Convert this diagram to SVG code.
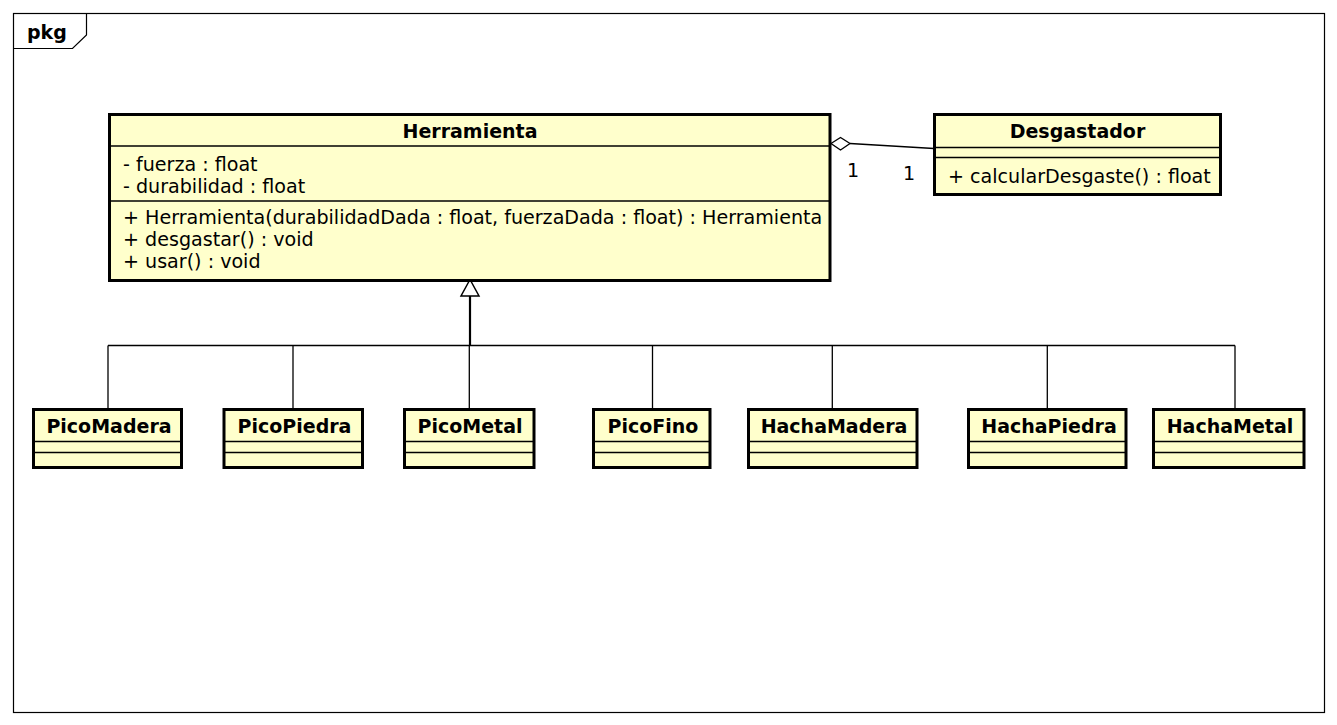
<svg xmlns="http://www.w3.org/2000/svg" width="1337" height="725" viewBox="0 0 1337 725">
<style>
  text { font-family: "DejaVu Sans", "Liberation Sans", sans-serif; font-size: 19.1px; fill: #000; }
  .b { font-weight: bold; font-size: 19px; }
  .c { text-anchor: middle; }
  .box { fill: #FFFFCC; stroke: #000; stroke-width: 3; }
  .sep { stroke: #000; stroke-width: 1.5; fill: none; }
  .ln { stroke: #000; stroke-width: 1.3; fill: none; }
</style>
<rect x="0" y="0" width="1337" height="725" fill="#fff"/>
<g id="pkg">
  <rect x="13.5" y="13.5" width="1311" height="699" fill="none" stroke="#000" stroke-width="1.2"/>
  <path d="M13.5,48.5 H72.5 L86.5,35 V13.5" fill="none" stroke="#000" stroke-width="1.2"/>
  <text class="b" x="27" y="39">pkg</text>
</g>
<g id="connectors">
  <polygon points="831,143.5 840.5,137.5 850,143.5 840.5,150" fill="#fff" stroke="#000" stroke-width="1.3"/>
  <line class="ln" x1="850" y1="143.5" x2="934" y2="148.5"/>
  <text x="853" y="177" class="c">1</text>
  <text x="909" y="180" class="c">1</text>
  <polygon points="470,279.5 461,296 479,296" fill="#fff" stroke="#000" stroke-width="1.5"/>
  <line x1="470" y1="296" x2="470" y2="345.5" stroke="#000" stroke-width="2.2"/>
  <line class="ln" x1="108" y1="345.5" x2="1235" y2="345.5"/>
  <line class="ln" x1="108" y1="345.5" x2="108" y2="409"/>
  <line class="ln" x1="293" y1="345.5" x2="293" y2="409"/>
  <line class="ln" x1="469.3" y1="345.5" x2="469.3" y2="409"/>
  <line class="ln" x1="652.5" y1="345.5" x2="652.5" y2="409"/>
  <line class="ln" x1="832.3" y1="345.5" x2="832.3" y2="409"/>
  <line class="ln" x1="1047.3" y1="345.5" x2="1047.3" y2="409"/>
  <line class="ln" x1="1235" y1="345.5" x2="1235" y2="409"/>
</g>
<g id="Herramienta">
  <rect class="box" x="109.5" y="114.5" width="720.5" height="166"/>
  <line class="sep" x1="109.5" y1="146" x2="830" y2="146"/>
  <line class="sep" x1="109.5" y1="201" x2="830" y2="201"/>
  <text class="b c" x="470" y="138">Herramienta</text>
  <text x="123" y="170.5">- fuerza : float</text>
  <text x="123" y="192.5">- durabilidad : float</text>
  <text x="123" y="224">+ Herramienta(durabilidadDada : float, fuerzaDada : float) : Herramienta</text>
  <text x="123" y="246">+ desgastar() : void</text>
  <text x="123" y="268">+ usar() : void</text>
</g>
<g id="Desgastador">
  <rect class="box" x="934.5" y="114.5" width="286" height="80"/>
  <line class="sep" x1="934.5" y1="147.5" x2="1220.5" y2="147.5"/>
  <line class="sep" x1="934.5" y1="157.5" x2="1220.5" y2="157.5"/>
  <text class="b c" x="1077.5" y="138">Desgastador</text>
  <text x="948" y="182.5">+ calcularDesgaste() : float</text>
</g>
<g id="PicoMadera">
  <rect class="box" x="33.5" y="409.5" width="148" height="58"/>
  <line class="sep" x1="33.5" y1="441.5" x2="181.5" y2="441.5"/>
  <line class="sep" x1="33.5" y1="452.5" x2="181.5" y2="452.5"/>
  <text class="b c" x="109" y="433">PicoMadera</text>
</g>
<g id="PicoPiedra">
  <rect class="box" x="224" y="409.5" width="138.5" height="58"/>
  <line class="sep" x1="224" y1="441.5" x2="362.5" y2="441.5"/>
  <line class="sep" x1="224" y1="452.5" x2="362.5" y2="452.5"/>
  <text class="b c" x="294.5" y="433">PicoPiedra</text>
</g>
<g id="PicoMetal">
  <rect class="box" x="404.5" y="409.5" width="129.5" height="58"/>
  <line class="sep" x1="404.5" y1="441.5" x2="534" y2="441.5"/>
  <line class="sep" x1="404.5" y1="452.5" x2="534" y2="452.5"/>
  <text class="b c" x="470" y="433">PicoMetal</text>
</g>
<g id="PicoFino">
  <rect class="box" x="593.5" y="409.5" width="116.5" height="58"/>
  <line class="sep" x1="593.5" y1="441.5" x2="710" y2="441.5"/>
  <line class="sep" x1="593.5" y1="452.5" x2="710" y2="452.5"/>
  <text class="b c" x="653" y="433">PicoFino</text>
</g>
<g id="HachaMadera">
  <rect class="box" x="748.5" y="409.5" width="168.5" height="58"/>
  <line class="sep" x1="748.5" y1="441.5" x2="917" y2="441.5"/>
  <line class="sep" x1="748.5" y1="452.5" x2="917" y2="452.5"/>
  <text class="b c" x="834" y="433">HachaMadera</text>
</g>
<g id="HachaPiedra">
  <rect class="box" x="968.5" y="409.5" width="157.5" height="58"/>
  <line class="sep" x1="968.5" y1="441.5" x2="1126" y2="441.5"/>
  <line class="sep" x1="968.5" y1="452.5" x2="1126" y2="452.5"/>
  <text class="b c" x="1049" y="433">HachaPiedra</text>
</g>
<g id="HachaMetal">
  <rect class="box" x="1153.5" y="409.5" width="150.5" height="58"/>
  <line class="sep" x1="1153.5" y1="441.5" x2="1304" y2="441.5"/>
  <line class="sep" x1="1153.5" y1="452.5" x2="1304" y2="452.5"/>
  <text class="b c" x="1230" y="433">HachaMetal</text>
</g>
</svg>
